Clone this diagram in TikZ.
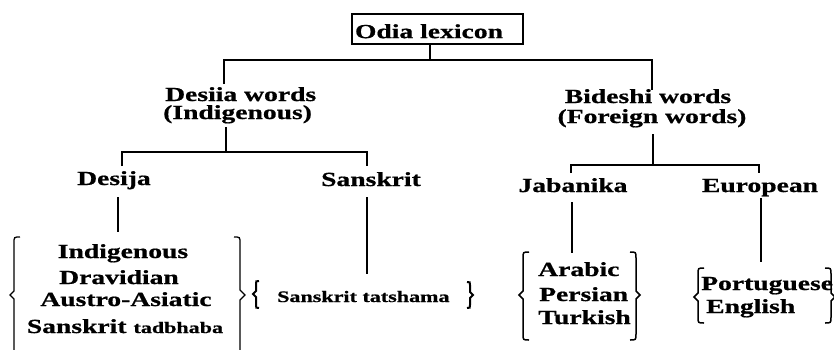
\documentclass[tikz,border=0pt]{standalone}
\usepackage{fontspec}
\setmainfont{Liberation Serif}[FakeStretch=1.38, BoldFeatures={FakeBold=0.8}]
% x, y1, ym, y2, dir(1=left,-1=right), curl radius, notch, line width
\newcommand\brc[8]{\draw[line width=#8] ({#1+#6*#5},#2) .. controls (#1,#2) .. (#1,{#2+#6}) -- (#1,{#3-#7}) -- ({#1-#7*#5},#3) -- (#1,{#3+#7}) -- (#1,{#4-#6}) .. controls (#1,#4) .. ({#1+#6*#5},#4);}
\begin{document}
\begin{tikzpicture}[x=1pt,y=-1pt,
  tree/.style={line width=2.2pt},
  lbl/.style={inner sep=0pt, font=\fontsize{20}{20}\selectfont\bfseries, anchor=base},
  lblw/.style={lbl, anchor=base west},
  small/.style={font=\fontsize{16}{16}\selectfont\bfseries}]
\useasboundingbox (0,0) rectangle (834,349);

% root
\node[draw, line width=2.2pt, anchor=north, inner xsep=3pt, inner ysep=3pt,
      text height=21pt, text depth=3pt, font=\fontsize{20}{20}\selectfont\bfseries]
      (top) at (437.5,13) {\makebox[165pt][l]{Odia lexicon}};

% level 1
\node[lblw] (desiiaA) at (165,101) {Desiia words};
\node[lblw] (desiiaB) at (163,119) {(Indigenous)};
\node[lbl] (bideshiA) at (648,103) {Bideshi words};
\node[lbl] (bideshiB) at (652,123) {(Foreign words)};

% level 2
\node[lbl] (desija) at (114,185) {Desija};
\node[lbl] (sanskrit) at (371,186) {Sanskrit};
\node[lbl] (jabanika) at (573,192) {Jabanika};
\node[lbl] (european) at (760,192) {European};

% leaves
\node[lbl] (indig) at (123,258) {Indigenous};
\node[lbl] (dravid) at (119,284) {Dravidian};
\node[lbl] (austro) at (126,306) {Austro-Asiatic};
\node[lbl] (tadbh) at (125,333) {Sanskrit \fontsize{16}{16}\selectfont tadbhaba};
\node[lblw, small] (tatsh) at (277,302) {Sanskrit tatshama};
\node[lblw] (arabic) at (538,276) {Arabic};
\node[lblw] (persian) at (539,301) {Persian};
\node[lblw] (turkish) at (538,324) {Turkish};
\node[lblw] (portug) at (701,290) {Portuguese};
\node[lblw] (english) at (706,313) {English};

% connector points
\coordinate (j0) at (430,60);
\coordinate (desiiaIn) at (224,84);
\coordinate (bideshiIn) at (652,90);
\coordinate (desiiaOut) at (226,127);
\coordinate (j1) at (226,152);
\coordinate (desijaIn) at (122,166);
\coordinate (sanskritIn) at (367,166);
\coordinate (bideshiOut) at (653,134);
\coordinate (j2) at (653,165);
\coordinate (jabIn) at (571,173);
\coordinate (eurIn) at (759,173);
\coordinate (desijaOut) at (118,197);
\coordinate (desijaList) at (118,232);
\coordinate (sanskritOut) at (367,197);
\coordinate (tatshIn) at (367,274);
\coordinate (jabOut) at (572,202);
\coordinate (arabIn) at (572,253);
\coordinate (eurOut) at (761,198);
\coordinate (portIn) at (761,262);

\draw[tree] (top.south -| j0) -- (j0);
\draw[tree] (desiiaIn) |- (j0) -| (bideshiIn);
\draw[tree] (desiiaOut) -- (j1);
\draw[tree] (desijaIn) |- (j1) -| (sanskritIn);
\draw[tree] (bideshiOut) -- (j2);
\draw[tree] (jabIn) |- (j2) -| (eurIn);
\draw[tree] (desijaOut) -- (desijaList);
\draw[tree] (sanskritOut) -- (tatshIn);
\draw[tree] (jabOut) -- (arabIn);
\draw[tree] (eurOut) -- (portIn);

% braces
\brc{14}{237}{295}{365}{1}{6}{4}{1.3pt}
\brc{240}{237}{295}{365}{-1}{6}{5}{1.3pt}
\brc{256}{281}{294}{308}{1}{3}{3}{2pt}
\brc{470}{282}{295}{308}{-1}{3}{3}{2pt}
\brc{523}{252}{295}{340}{1}{6}{4}{1.5pt}
\brc{636}{252}{295}{340}{-1}{6}{4}{1.5pt}
\brc{698}{268}{297}{323}{1}{6}{4}{1.5pt}
\brc{831}{268}{297}{323}{-1}{6}{4}{1.5pt}
\end{tikzpicture}
\end{document}
